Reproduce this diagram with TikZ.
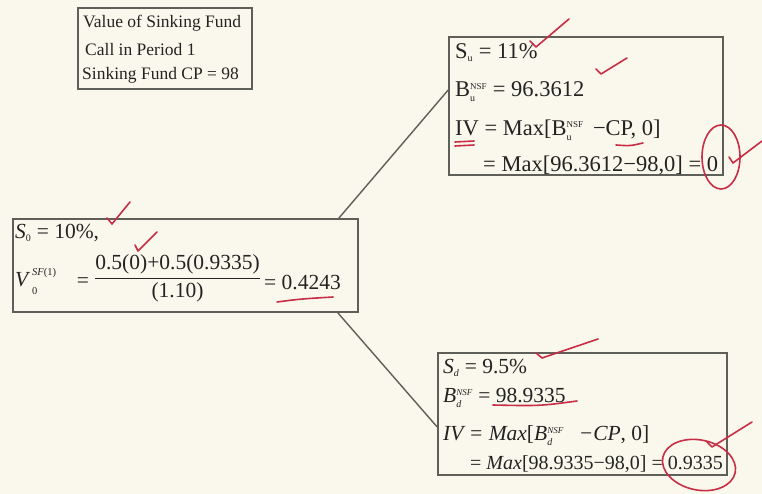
\documentclass[tikz,border=0pt]{standalone}
\usepackage{fontspec}
\setmainfont{Liberation Serif}
\usetikzlibrary{calc}
\definecolor{paper}{RGB}{250,248,236}
\definecolor{frame}{RGB}{95,95,90}
\definecolor{ink}{RGB}{35,35,35}
\definecolor{redink}{RGB}{200,45,70}
\newcommand\SBSP[3]{#1$_{\hbox{\fontsize{10}{10}\selectfont #2}}^{\hbox{\fontsize{9}{9}\selectfont #3}}$}
\newcommand\SBonly[2]{#1$_{\hbox{\fontsize{10}{10}\selectfont #2}}$}
\begin{document}
\begin{tikzpicture}[x=1pt,y=-1pt,
  box/.style={draw=frame, line width=1.6pt, rectangle, inner sep=0pt},
  big/.style={anchor=west, inner sep=0pt, text=ink, font=\fontsize{21.5}{24}\selectfont},
  upfont/.style={big, font=\fontsize{22.5}{25}\selectfont},
  tiny/.style={anchor=west, inner sep=0pt, text=ink, font=\fontsize{10.5}{11}\selectfont},
  small/.style={anchor=west, inner sep=0pt, text=ink, font=\fontsize{17.5}{20}\selectfont},
  edge/.style={draw=frame, line width=1.4pt},
  pen/.style={draw=redink, line width=1.6pt, line cap=round, line join=round}]
\useasboundingbox (0,0) rectangle (762,494);
\fill[paper] (0,0) rectangle (762,494);

% boxes
\node[box, minimum width=174pt, minimum height=81pt] (T) at (165,48.5) {};
\node[box, minimum width=274pt, minimum height=138pt] (U) at (586,106) {};
\node[box, minimum width=345pt, minimum height=93pt] (L) at (185.5,265.5) {};
\node[box, minimum width=289pt, minimum height=122pt] (D) at (582.5,414) {};

% connectors
\draw[edge] ($(L.north east)+(-20,0)$) -- ($(U.west)+(0,-16)$);
\draw[edge] ($(L.south east)+(-21,0)$) -- ($(D.west)+(0,13)$);

% title box
\node[small] (t1) at (83,23) {Value of Sinking Fund};
\node[small] (t2) at (85,50) {Call in Period 1};
\node[small] (t3) at (82,75) {Sinking Fund CP = 98};

% up box
\node[upfont] (u1) at (455,53) {\SBonly{S}{u} = 11\%};
\node[upfont] (u2) at (455,92) {\SBSP{B}{u}{NSF} = 96.3612};
\node[upfont] (u3) at (455,130) {IV = Max[\SBSP{B}{u}{NSF}\, −CP, 0]};
\node[upfont] (u4) at (483,165) {= Max[96.3612−98,0] = 0};

% left box
\node[big] (l1) at (15,233) {\SBonly{\textit{S}}{0} = 10\%,};
\node[big] (l2a) at (15,280) {\textit{V}};
\node[tiny] (l2sup) at (32,273) {\textit{SF}(1)};
\node[tiny] (l2sub) at (32,291) {0};
\node[big, anchor=center] (l2b) at (83,283) {=};
\node[big, anchor=center] (l2c) at (177.5,278) {$\displaystyle\frac{\hbox{0.5(0)+0.5(0.9335)}}{\hbox{(1.10)}}$};
\node[big] (l2d) at (264,283) {= 0.4243};

% down box
\node[big] (d1) at (443,368) {\SBonly{\textit{S}}{\textit{d}} = 9.5\%};
\node[big] (d2) at (443,398) {\SBSP{\textit{B}}{\textit{d}}{\textit{NSF}} = 98.9335};
\node[big] (d3) at (443,436) {\textit{IV = Max}[\SBSP{\textit{B}}{\textit{d}}{\textit{NSF}}\;\, \textit{−CP}, 0]};
\node[big, font=\fontsize{20}{23}\selectfont] (d4) at (470,464) {= \textit{Max}[98.9335−98,0] = 0.9335};

% red annotations
\draw[pen] (530,41) -- (536,47) -- (569,19);
\draw[pen] (596,69) -- (601,74) -- (627,58);
\draw[pen] (455,142) -- (474,141);
\draw[pen] (455,146) -- (474,145);
\draw[pen] (616,145) .. controls (630,146) .. (643,143);
\draw[pen] (721,157) ellipse [x radius=19, y radius=32];
\draw[pen] (729,157) -- (733,163) -- (762,141);
\draw[pen] (107,218) -- (112,224) -- (130,202);
\draw[pen] (135,245) -- (138,251) -- (157,232);
\draw[pen] (277,302) .. controls (300,299) .. (333,297);
\draw[pen] (536,353) -- (542,358) -- (598,339);
\draw[pen] (493,405) .. controls (540,406) .. (577,401);
\draw[pen, rotate around={-12:(699,465)}] (699,465) ellipse [x radius=37, y radius=25];
\draw[pen] (707,442) -- (712,447) -- (752,422);
\end{tikzpicture}
\end{document}
